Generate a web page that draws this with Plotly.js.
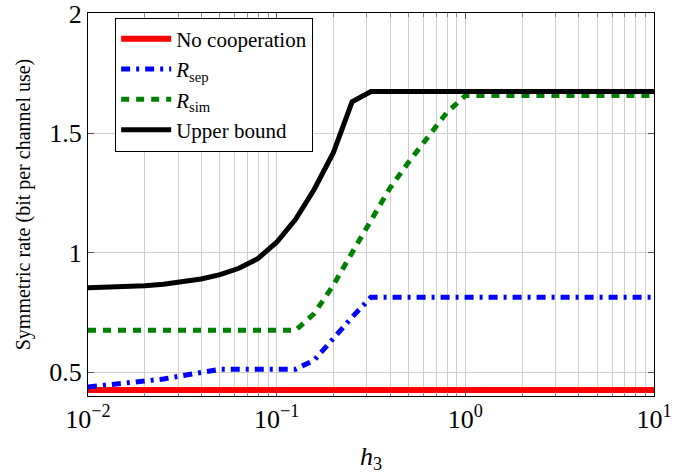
<!DOCTYPE html>
<html>
<head>
<meta charset="utf-8">
<script src="https://cdn.plot.ly/plotly-3.0.1.min.js"></script>
<style>html,body{margin:0;padding:0;background:#fff;}#chart{width:694px;height:474px;}</style>
</head>
<body>
<div id="chart"></div>
<script>
// h3 sample points (log-spaced, 10 per decade)
const h3 = [0.01, 0.0126, 0.0158, 0.02, 0.0251, 0.0316, 0.0398, 0.0501, 0.0631, 0.0794,
            0.1, 0.126, 0.158, 0.2, 0.251, 0.316, 0.398, 0.501, 0.631, 0.794,
            1, 1.26, 1.58, 2, 2.51, 3.16, 3.98, 5.01, 6.31, 7.94, 10];

const noCoop = [0.425,0.425,0.425,0.425,0.425,0.425,0.425,0.425,0.425,0.425,
                0.425,0.425,0.425,0.425,0.425,0.425,0.425,0.425,0.425,0.425,
                0.425,0.425,0.425,0.425,0.425,0.425,0.425,0.425,0.425,0.425,0.425];

const rSep = [0.438,0.446,0.453,0.461,0.471,0.485,0.499,0.512,0.512,0.512,
              0.512,0.512,0.55,0.645,0.73,0.814,0.814,0.814,0.814,0.814,
              0.814,0.814,0.814,0.814,0.814,0.814,0.814,0.814,0.814,0.814,0.814];

const rSim = [0.675,0.675,0.675,0.675,0.675,0.675,0.675,0.675,0.675,0.675,
              0.675,0.675,0.745,0.865,1.0,1.13,1.27,1.38,1.48,1.585,
              1.658,1.658,1.658,1.658,1.658,1.658,1.658,1.658,1.658,1.658,1.658];

const upper = [0.853,0.855,0.858,0.862,0.868,0.877,0.89,0.908,0.935,0.975,
               1.044,1.14,1.265,1.42,1.632,1.675,1.675,1.675,1.675,1.675,
               1.675,1.675,1.675,1.675,1.675,1.675,1.675,1.675,1.675,1.675,1.675];

const seriesNames = ['No cooperation', '<i>R</i><sub>sep</sub>', '<i>R</i><sub>sim</sub>', 'Upper bound'];

const xMajor = [0.01, 0.1, 1, 10];
const xMajorText = ['10<sup>−2</sup>', '10<sup>−1</sup>', '10<sup>0</sup>', '10<sup>1</sup>'];
const xMinor = [0.02,0.03,0.04,0.05,0.06,0.07,0.08,0.09,
                0.2,0.3,0.4,0.5,0.6,0.7,0.8,0.9,
                2,3,4,5,6,7,8,9];
const yTicks = [0.5, 1, 1.5, 2];
const yTickText = ['0.5', '1', '1.5', '2'];

const serif = 'Liberation Serif';

const traces = [
  {x: h3, y: noCoop, name: seriesNames[0], mode: 'lines', line: {color: '#ff0000', width: 6}},
  {x: h3, y: rSep, name: seriesNames[1], mode: 'lines', line: {color: '#0000ff', width: 5, dash: '9px,6px,3px,6px'}},
  {x: h3, y: rSim, name: seriesNames[2], mode: 'lines', line: {color: '#008000', width: 5, dash: '8px,7px'}},
  {x: h3, y: upper, name: seriesNames[3], mode: 'lines', line: {color: '#000000', width: 5}}
];

const layout = {
  width: 694, height: 474,
  margin: {l: 88, r: 40, t: 13, b: 78},
  paper_bgcolor: '#ffffff', plot_bgcolor: '#ffffff',
  font: {family: serif, color: '#000000'},
  showlegend: true,
  legend: {
    x: 0.048, y: 0.988, xanchor: 'left', yanchor: 'top',
    bgcolor: '#ffffff', bordercolor: '#000000', borderwidth: 1,
    itemwidth: 50,
    font: {family: serif, size: 21, color: '#000000'}
  },
  xaxis: {
    type: 'log', range: [-2, 1],
    tickmode: 'array', tickvals: xMajor, ticktext: xMajorText,
    tickfont: {family: serif, size: 26},
    ticks: 'inside', ticklen: 6, tickcolor: '#555555',
    showgrid: true, gridcolor: '#cfcfcf', gridwidth: 1,
    minor: {tickmode: 'array', tickvals: xMinor, showgrid: true, gridcolor: '#cfcfcf', gridwidth: 1,
            ticks: 'inside', ticklen: 4, tickcolor: '#888888'},
    showline: true, linecolor: '#000000', linewidth: 1, mirror: 'ticks',
    zeroline: false,
    title: {text: '<i>h</i><sub>3</sub>', font: {family: serif, size: 26}, standoff: 16}
  },
  yaxis: {
    range: [0.4, 2.004],
    tickmode: 'array', tickvals: yTicks, ticktext: yTickText,
    tickfont: {family: serif, size: 26},
    ticks: 'inside', ticklen: 6, tickcolor: '#555555',
    showgrid: true, gridcolor: '#cfcfcf', gridwidth: 1,
    showline: true, linecolor: '#000000', linewidth: 1, mirror: 'ticks',
    zeroline: false,
    title: {text: 'Symmetric rate (bit per channel use)', font: {family: serif, size: 20}, standoff: 13}
  }
};

Plotly.newPlot('chart', traces, layout, {displayModeBar: false, staticPlot: true});
</script>
</body>
</html>
